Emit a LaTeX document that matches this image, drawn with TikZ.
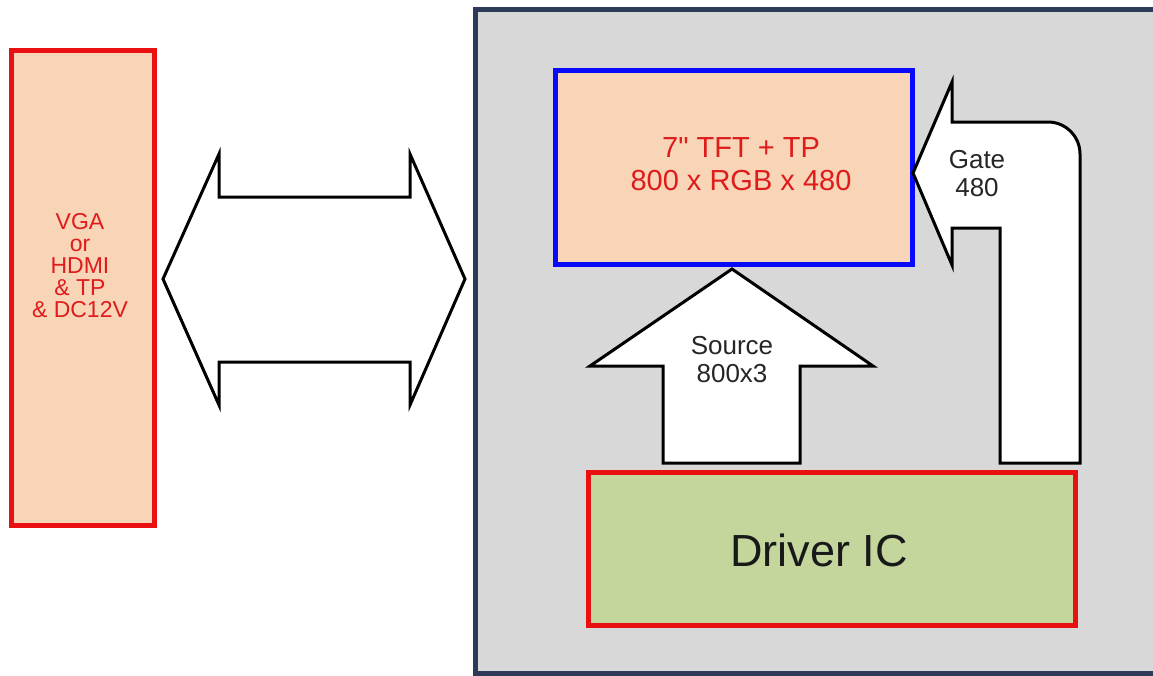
\documentclass[tikz,border=0pt]{standalone}
\usepackage{fontspec}
\setmainfont{Liberation Sans}[Ligatures=TeXOff]
\definecolor{panelgray}{RGB}{216,216,216}
\definecolor{panelline}{RGB}{44,60,88}
\definecolor{peach}{RGB}{249,213,183}
\definecolor{icgreen}{RGB}{196,214,155}
\definecolor{boxred}{RGB}{232,16,16}
\definecolor{txtred}{RGB}{222,28,28}
\definecolor{lcdblue}{RGB}{10,10,250}
\begin{document}
\begin{tikzpicture}[x=1pt,y=-1pt]
\tikzset{panel/.style={fill=panelgray,draw=panelline,line width=5pt}}
\tikzset{framed/.style={line width=5pt,inner sep=0pt}}
\tikzset{blockarrow/.style={draw=black,fill=white,line width=3pt,line join=miter}}
\tikzset{label/.style={align=center,text=black!85,font=\fontsize{26}{28}\selectfont}}
\useasboundingbox[fill=white] (0,0) rectangle (1153,675);
\draw[panel] (475,9) rectangle (1175,673);
\node[framed,draw=boxred,fill=peach,minimum width=143pt,minimum height=475pt] (host) at (83,288) {};
\node[align=center,text=txtred,font=\fontsize{23}{22}\selectfont] (hosttext) at (80,266)
  {VGA\\or\\HDMI\\\& TP\\\& DC12V};
\node[framed,draw=lcdblue,fill=peach,minimum width=357pt,minimum height=194pt] (lcd) at (734,167.5) {};
\node[align=center,text=txtred,font=\fontsize{29}{33}\selectfont] (lcdtext) at (741,164)
  {7" TFT + TP\\800 x RGB x 480};
\node[framed,draw=boxred,fill=icgreen,minimum width=487pt,minimum height=153pt] (ic) at (832,549) {};
\node[text=black!90,font=\fontsize{45}{50}\selectfont] (ictext) at (819,550) {Driver IC};
% link between host and panel
\draw[blockarrow] (163,279) -- (219,154) -- (219,197) -- (410,197) -- (410,154) -- (465,279)
  -- (410,405) -- (410,362) -- (219,362) -- (219,405) -- cycle;
% source
\draw[blockarrow] (732,269) -- (873,366) -- (800,366) -- (800,463) -- (663,463) -- (663,366)
  -- (590,366) -- cycle;
\node[label] (src) at (732,360) {Source\\800x3};
% gate
\draw[blockarrow] (913,173) -- (952,82) -- (952,122) -- (1048,122) arc[start angle=-90,end angle=0,radius=32]
  -- (1080,463) -- (1000,463) -- (1000,228) -- (952,228) -- (952,265) -- cycle;
\node[label] (gate) at (977,174) {Gate\\480};
\end{tikzpicture}
\end{document}
